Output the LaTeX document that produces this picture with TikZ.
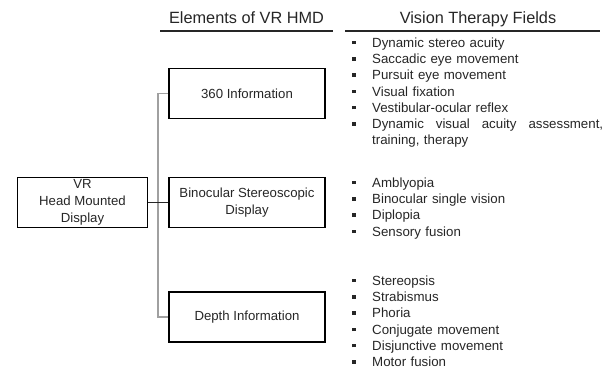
\documentclass[tikz,border=0pt]{standalone}
\usepackage{fontspec}
\setmainfont{Liberation Sans}
\definecolor{txt}{RGB}{38,38,38}
\definecolor{conn}{RGB}{160,160,160}
\newcommand\vbul{\makebox[0pt][r]{\rule[2.9pt]{3.6pt}{3.6pt}\hspace{16.3pt}}}
\begin{document}
\begin{tikzpicture}[x=1pt,y=-1pt,
  box/.style={draw=black, line width=1.8pt, minimum width=156pt, minimum height=50pt, inner sep=0pt, align=center, font=\fontsize{13.2}{17}\selectfont, text=txt},
  head/.style={font=\fontsize{16.3}{19}\selectfont, text=txt, inner sep=0pt, anchor=base},
  hrule/.style={line width=1.8pt, draw=txt},
  tree/.style={draw=conn, line width=1.2pt},
  link/.style={draw=txt, line width=1pt},
  blist/.style={anchor=north west, inner sep=0pt, text width=231pt, align=left, font=\fontsize{13.3}{16.3}\selectfont, text=txt}]
\useasboundingbox (0,0) rectangle (611,369);

% headers
\node[head] (h1) at (246.5,23.8) {Elements of VR HMD};
\node[head] (h2) at (478,23.8) {Vision Therapy Fields};
\coordinate (u1a) at (160,31);
\coordinate (u1b) at (333,31);
\coordinate (u2a) at (345,31);
\coordinate (u2b) at (600,31);
\draw[hrule] (u1a) -- (u1b);
\draw[hrule] (u2a) -- (u2b);

% boxes
\node[box, minimum width=130pt, line width=1.5pt] (hmd) at (82.5,202.5) {VR\\Head Mounted\\Display};
\node[box] (b360) at (247,93.5) {360 Information};
\node[box] (bbin) at (247,202.5) {Binocular Stereoscopic\\Display};
\node[box] (bdep) at (247,317) {Depth Information};

% connectors
\coordinate (trunk) at (158,93.5);
\draw[tree] (b360.west) -- (trunk) |- (bdep.west);
\draw[link] (hmd.east) -- (bbin.west);

% lists
\node[blist] (l1) at (372,37.3) {\vbul Dynamic stereo acuity\\
\vbul Saccadic eye movement\\
\vbul Pursuit eye movement\\
\vbul Visual fixation\\
\vbul Vestibular-ocular reflex\\
\vbul Dynamic\hfill visual\hfill acuity\hfill assessment,\\
training, therapy};
\node[blist] (l2) at (372,177.3) {\vbul Amblyopia\\
\vbul Binocular single vision\\
\vbul Diplopia\\
\vbul Sensory fusion};
\node[blist] (l3) at (372,275.3) {\vbul Stereopsis\\
\vbul Strabismus\\
\vbul Phoria\\
\vbul Conjugate movement\\
\vbul Disjunctive movement\\
\vbul Motor fusion};
\end{tikzpicture}
\end{document}
